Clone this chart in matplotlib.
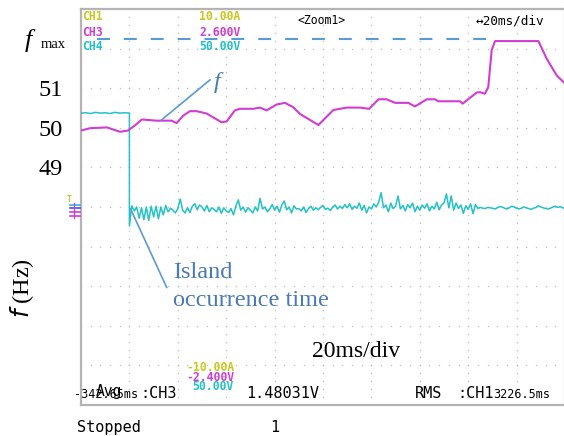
import matplotlib
matplotlib.use("Agg")
import matplotlib.pyplot as plt
import numpy as np

# ---- data (x in ms from left edge of screen, y in Hz) ----
f_ms = [0, 3.7, 10.7, 16.1, 19.4, 22.3, 25.1, 31.3, 37.5, 39.5, 42.3, 45.0, 47.8,
        51.9, 58.1, 60.2, 63.6, 65.7, 71.1, 74.0, 76.7, 80.9, 84.3, 87.7, 90.5,
        98.1, 104.3, 109.8, 115.3, 119.1, 122.9, 126.3, 129.8, 135.2, 138.0,
        142.9, 146.3, 147.6, 156.6, 157.7, 163.5, 164.9, 166.9, 168.3, 169.7,
        171.1, 189.0, 192.4, 196.6, 200.0]
f_hz = [49.93, 49.99, 50.01, 49.90, 49.93, 50.06, 50.21, 50.18, 50.18, 50.12,
        50.31, 50.42, 50.42, 50.36, 50.14, 50.16, 50.44, 50.48, 50.48, 50.51,
        50.44, 50.59, 50.63, 50.52, 50.35, 50.07, 50.45, 50.51, 50.51, 50.48,
        50.72, 50.72, 50.63, 50.63, 50.54, 50.72, 50.72, 50.67, 50.67, 50.61,
        50.89, 50.90, 50.86, 51.03, 51.96, 52.19, 52.19, 51.75, 51.32, 51.12]

f_max = 52.25
island_ms = 20

# CH4 trace before the island (ms, level)
ch4_pre_ms = [0, 2, 4, 6, 8, 10, 12, 14, 16, 18, 19.9]
ch4_pre = [50.37, 50.38, 50.36, 50.39, 50.37, 50.38, 50.36, 50.39, 50.37, 50.38, 50.37]

# CH4 trace after the island, one value per ms from 20 to 200
ch4_post = [
    47.52, 48.03, 47.90, 48.00, 47.72, 47.98, 47.68, 48.00, 47.66, 48.02,
    47.75, 48.02, 47.70, 48.00, 47.80, 48.04, 47.88, 47.97, 47.92, 47.85,
    47.96, 48.20, 47.92, 47.85, 47.98, 47.86, 48.02, 48.08, 47.93, 48.05,
    48.00, 47.90, 48.04, 47.88, 47.98, 47.94, 47.88, 48.00, 47.84, 47.98,
    47.90, 47.86, 47.96, 47.80, 48.02, 48.18, 47.92, 48.00, 47.87, 47.98,
    47.92, 47.85, 48.00, 47.90, 48.22, 47.95, 48.00, 47.88, 47.95, 48.06,
    47.92, 48.02, 47.87, 48.05, 48.15, 47.93, 48.00, 47.85, 48.03, 47.95,
    47.96, 47.90, 48.00, 47.86, 47.96, 48.02, 47.92, 47.98, 47.93, 47.99,
    48.04, 47.94, 47.97, 47.91, 48.00, 48.05, 47.95, 48.02, 47.96, 48.06,
    47.98, 48.08, 47.94, 48.02, 47.97, 48.10, 47.92, 48.04, 47.85, 48.00,
    47.95, 48.08, 48.00, 48.12, 48.36, 47.98, 48.05, 47.88, 48.10, 47.96,
    48.02, 48.28, 47.95, 48.04, 47.90, 48.06, 47.98, 48.10, 47.88, 48.02,
    47.92, 48.05, 47.97, 48.08, 47.90, 48.02, 47.95, 48.12, 47.93, 48.05,
    48.10, 48.33, 47.98, 48.28, 47.92, 48.10, 47.96, 48.05, 47.84, 48.03,
    47.94, 48.08, 47.83, 48.06, 47.96, 47.99, 47.97, 47.96, 47.99, 47.98,
    47.97, 47.95, 47.98, 48.01, 48.00, 47.97, 47.95, 47.98, 48.02, 48.00,
    47.97, 47.95, 47.97, 48.00, 47.98, 47.96, 47.94, 47.97, 47.99, 48.03,
    48.00, 47.98, 47.96, 47.95, 47.97, 48.00, 48.02, 47.99, 48.01, 47.98,
    47.96]
ch4_post_ms = np.arange(island_ms, island_ms + len(ch4_post))

hz_ticks = [49, 50, 51]

MAG = '#d23cd2'
CYA = '#22c2c6'
YEL = '#c8c81e'
BLU = '#5b9bd5'
BLU_TXT = '#4a7ab4'

W, H = 564, 436
fig = plt.figure(figsize=(W / 100, H / 100), dpi=100, facecolor='white')
ax = fig.add_axes([81 / W, (H - 405) / H, 484 / W, 396 / H])
ax.set_xlim(0, 200)
ax.set_ylim(43, 53)
ax.set_facecolor('white')
for s in ax.spines.values():
    s.set_color('#b4b4b4')
    s.set_linewidth(1.6)

# scope graticule dots (decoration)
gx = np.arange(0, 200.1, 4)
for yy in range(44, 53):
    ax.scatter(gx, np.full(gx.shape, yy), s=1.2, c='#c4c4c4', lw=0, zorder=1)
gy = np.arange(43, 53.01, 0.2)
for xx in range(20, 200, 20):
    ax.scatter(np.full(gy.shape, xx), gy, s=1.2, c='#c4c4c4', lw=0, zorder=1)

ax.set_xticks([])
ax.set_yticks(hz_ticks)
ax.set_yticklabels([str(t) for t in hz_ticks], family='Liberation Serif', fontsize=17.5)
ax.tick_params(axis='y', length=0, pad=13)

# traces
ax.plot(ch4_pre_ms + [island_ms] + list(ch4_post_ms),
        ch4_pre + [ch4_pre[-1]] + ch4_post, color=CYA, lw=1.1, zorder=3)
ax.plot(f_ms, f_hz, color=MAG, lw=1.5, zorder=4)
ax.plot([6.6, 171], [f_max, f_max], color=BLU, lw=1.5, dashes=(6.2, 6.7), zorder=2)

# annotations
ax.plot([33.3, 53.3], [50.20, 51.21], color=BLU, lw=1.2, zorder=5)
ax.plot([20.5, 35.4], [47.95, 45.97], color=BLU, lw=1.2, zorder=5)


def px(x, y):
    return x / W, 1 - y / H


serif = 'Liberation Serif'
fig.text(*px(214, 88), 'f', family=serif, style='italic', fontsize=17.5,
         color=BLU_TXT, va='baseline')
fig.text(*px(173, 278), 'Island', family=serif, fontsize=17.5, color=BLU_TXT, va='baseline')
fig.text(*px(173, 306.5), 'occurrence time', family=serif, fontsize=17.5,
         color=BLU_TXT, va='baseline')
fig.text(*px(312, 357), '20ms/div', family=serif, fontsize=17, color='black', va='baseline')
fig.text(*px(25, 47.5), 'f', family=serif, style='italic', fontsize=19, va='baseline')
fig.text(*px(41, 47.5), 'max', family=serif, fontsize=10.5, va='baseline')
fig.text(*px(22, 288), r'$\it{f}$ (Hz)', family=serif, fontsize=17.5, rotation=90,
         ha='center', va='center')

# scope readouts
mono = ['DejaVu Sans Mono', 'DejaVu Sans']
for txt, x, y, c in [('CH1', 82, 17, YEL), ('CH3', 82, 32, MAG), ('CH4', 82, 46, CYA),
                     ('10.00A', 199, 17, YEL), ('2.600V', 199, 32, MAG),
                     ('50.00V', 199, 46, CYA),
                     ('-10.00A', 186, 367, YEL), ('-2.400V', 186, 377, MAG),
                     ('50.00V', 192, 387, CYA)]:
    fig.text(*px(x, y), txt, family=mono, fontsize=8.3, weight='bold', color=c, va='center')

for txt, x, y, fs in [('<Zoom1>', 297, 21, 8.3), ('\u219420ms/div', 476, 21, 9.2),
                      ('-342.65ms', 74, 394, 8.5), ('Avg', 96, 391, 10.5),
                      (':CH3', 140, 393, 11), ('1.48031V', 246, 393, 11),
                      ('RMS', 415, 393, 11), (':CH1', 457, 393, 11),
                      ('3226.5ms', 493, 395, 8.5),
                      ('Stopped', 77, 427, 11), ('1', 270, 427, 11)]:
    fig.text(*px(x, y), txt, family=mono, fontsize=fs, color='black', va='center')

# channel ground markers at left edge
fig.text(*px(67, 199), 'T', family=mono, fontsize=6, color=YEL, weight='bold', va='center')
for y, c in [(205, CYA), (208, '#4b4bff'), (212, MAG), (216, MAG)]:
    fig.add_artist(plt.Line2D([70 / W, 80 / W], [1 - y / H, 1 - y / H], color=c, lw=1.2))
fig.add_artist(plt.Line2D([74 / W, 74 / W], [1 - 203 / H, 1 - 218 / H], color=MAG, lw=1.0))

fig.savefig('out.png', dpi=100, facecolor='white')
